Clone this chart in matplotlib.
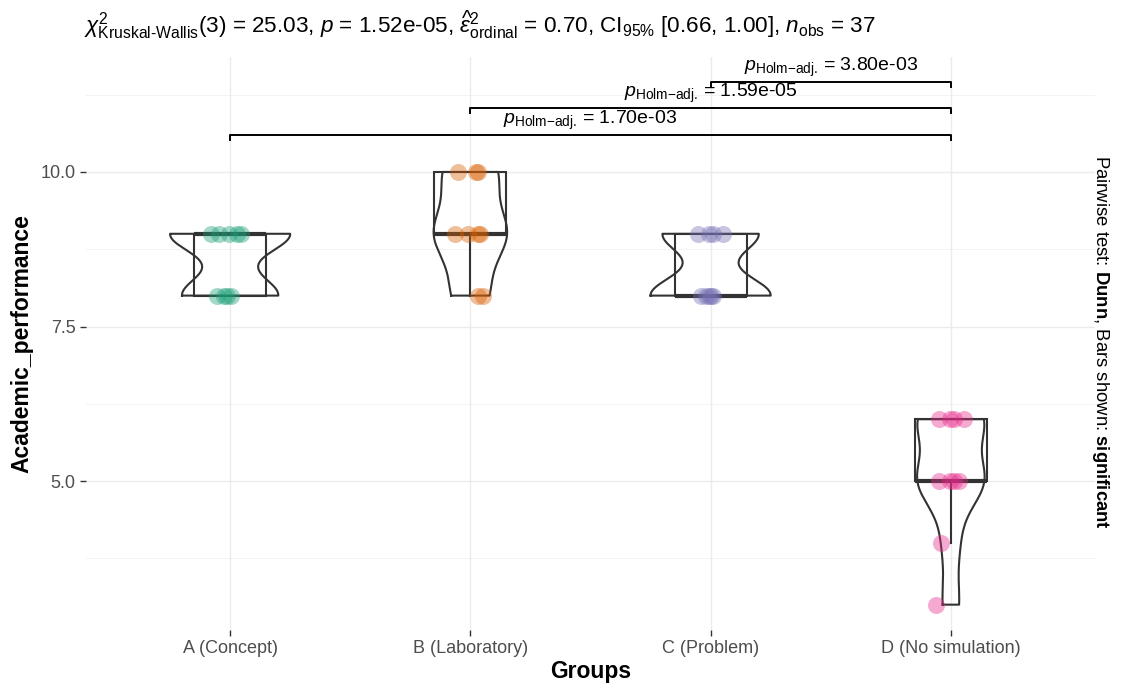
import numpy as np
import matplotlib
matplotlib.use("Agg")
import matplotlib.pyplot as plt
from matplotlib.patches import Rectangle

plt.rcParams['font.family'] = ['Liberation Sans', 'DejaVu Sans']
plt.rcParams['mathtext.fontset'] = 'custom'
plt.rcParams['mathtext.rm'] = 'Liberation Sans'
plt.rcParams['mathtext.it'] = 'Liberation Sans:italic'
plt.rcParams['mathtext.bf'] = 'Liberation Sans:bold'
plt.rcParams['mathtext.sf'] = 'Liberation Sans'

# data
groups = ["A (Concept)", "B (Laboratory)", "C (Problem)", "D (No simulation)"]
scores_a = [9, 9, 9, 9, 9, 8, 8, 8, 8]
scores_b = [10, 10, 10, 9, 9, 9, 9, 8, 8]
scores_c = [9, 9, 9, 9, 8, 8, 8, 8, 8]
scores_d = [6, 6, 6, 6, 5, 5, 5, 5, 4, 3]
colors = ["#1B9E77", "#D95F02", "#7570B3", "#E7298A"]

# pairwise Dunn comparisons shown as bars: (from, to, label)
pair_from = [1, 2, 3]
pair_to = [4, 4, 4]
pair_p = ["1.70e-03", "1.59e-05", "3.80e-03"]
pair_y = [10.6, 11.04, 11.46]

# horizontal jitter of the points (kept fixed so the look is stable)
jitter = [
    [-0.08, -0.046, -0.004, 0.03, 0.046, -0.054, 0.004, -0.025, -0.012],
    [-0.05, 0.025, 0.033, -0.063, -0.008, 0.042, 0.03, 0.03, 0.054],
    [-0.054, -0.008, 0.008, 0.05, -0.04, -0.02, -0.008, 0.0, 0.008],
    [-0.05, -0.004, 0.012, 0.054, -0.05, -0.004, 0.012, 0.035, -0.042, -0.063],
]

all_scores = [scores_a, scores_b, scores_c, scores_d]
line_col = "#333333"


def kde(vals, grid):
    v = np.asarray(vals, float)
    n = len(v)
    q75, q25 = np.percentile(v, [75, 25])
    lo = min(np.std(v, ddof=1), (q75 - q25) / 1.34)
    bw = 0.9 * lo * n ** -0.2
    z = (grid[:, None] - v[None, :]) / bw
    return np.exp(-0.5 * z ** 2).sum(axis=1) / (n * bw * np.sqrt(2 * np.pi))


fig = plt.figure(figsize=(11.22, 6.85), dpi=100)
ax = fig.add_axes([86 / 1122, 1 - 630 / 685, (1095 - 86) / 1122, (630 - 57) / 685])
ax.set_xlim(0.4, 4.6)
ax.set_ylim(2.59, 11.86)

for s in ax.spines.values():
    s.set_visible(False)
for y in [5, 7.5, 10]:
    ax.axhline(y, color="#EBEBEB", lw=1.0, zorder=0)
for y in [3.75, 6.25, 8.75, 11.25]:
    ax.axhline(y, color="#F3F3F3", lw=0.7, zorder=0)
for x in range(1, 5):
    ax.axvline(x, color="#EBEBEB", lw=1.0, zorder=0)

# violins (ggplot scale="area": common max width)
grids = []
dens = []
for vals in all_scores:
    g = np.linspace(min(vals), max(vals), 512)
    grids.append(g)
    dens.append(kde(vals, g))
dmax = max(d.max() for d in dens)
for i, (g, d) in enumerate(zip(grids, dens)):
    x = i + 1
    w = 0.25 * d / dmax
    xs = np.concatenate([x - w, (x + w)[::-1], [x - w[0]]])
    ys = np.concatenate([g, g[::-1], [g[0]]])
    ax.plot(xs, ys, color=line_col, lw=1.5, zorder=3)

# boxplots
for i, vals in enumerate(all_scores):
    x = i + 1
    v = np.asarray(vals, float)
    q1, med, q3 = np.percentile(v, [25, 50, 75])
    iqr = q3 - q1
    lo = v[v >= q1 - 1.5 * iqr].min()
    hi = v[v <= q3 + 1.5 * iqr].max()
    ax.add_patch(Rectangle((x - 0.15, q1), 0.3, q3 - q1, fill=False,
                           ec=line_col, lw=1.5, zorder=3))
    ax.plot([x - 0.15, x + 0.15], [med, med], color=line_col, lw=3.0,
            solid_capstyle="butt", zorder=3)
    if hi > q3:
        ax.plot([x, x], [q3, hi], color=line_col, lw=1.5, zorder=3)
    if lo < q1:
        ax.plot([x, x], [q1, lo], color=line_col, lw=1.5, zorder=3)

# points
for i, vals in enumerate(all_scores):
    xs = [i + 1 + j for j in jitter[i]]
    ax.scatter(xs, vals, s=150, color=colors[i], alpha=0.4, lw=0, zorder=4)

# significance bars
tip = 0.08
for a, b, p, y in zip(pair_from, pair_to, pair_p, pair_y):
    ax.plot([a, a, b, b], [y - tip, y, y, y - tip], color="black", lw=1.4,
            zorder=5)
    ax.text((a + b) / 2, y + 0.17, "$\\mathit{p}_{\\text{Holm\u2212adj.}}$ = " + p,
            ha="center", va="baseline", fontsize=14, zorder=6)

ax.set_xticks(range(1, 5))
ax.set_xticklabels(groups)
ax.set_yticks([5, 7.5, 10])
ax.set_yticklabels(["5.0", "7.5", "10.0"])
ax.tick_params(axis="both", colors=line_col, labelcolor="#4D4D4D",
               labelsize=13, length=4, width=1)
ax.set_xlabel("Groups", fontsize=16.5, fontweight="bold", labelpad=2)
ax.set_ylabel("Academic_performance", fontsize=16.5, fontweight="bold",
              labelpad=5)

title = (r"$\chi^2_{\text{Kruskal-Wallis}}$(3) = 25.03, $\mathit{p}$ = 1.52e-05, "
         r"$\widehat{\varepsilon}^2_{\text{ordinal}}$ = 0.70, CI$_{95\%}$ [0.66, 1.00], "
         r"$\mathit{n}_{\text{obs}}$ = 37")
fig.text(84 / 1122, 1 - 33 / 685, title, fontsize=16.2, ha="left", va="baseline")

fig.text(1101 / 1122, 1 - 342 / 685,
         r"Pairwise test: $\mathbf{Dunn}$, Bars shown: $\mathbf{significant}$",
         rotation=-90, fontsize=13.3, ha="center", va="center")

fig.savefig("out.png", dpi=100)
